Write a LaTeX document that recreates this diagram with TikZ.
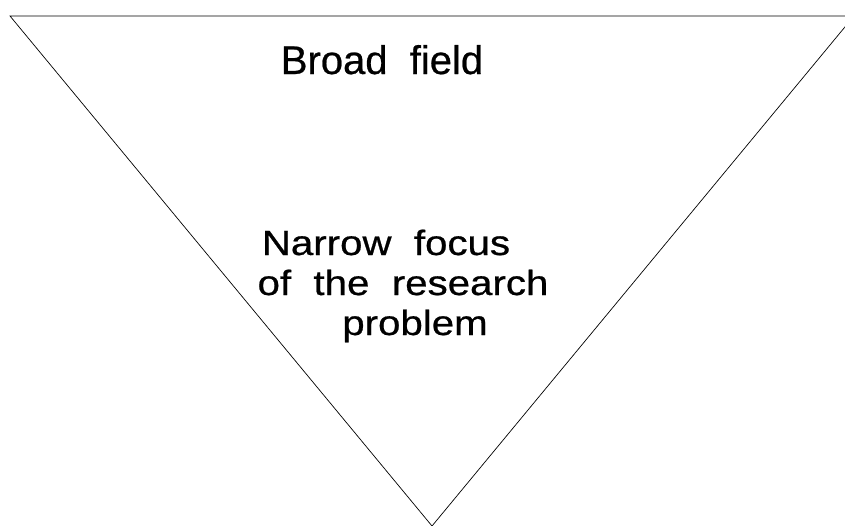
\documentclass[tikz,border=0pt]{standalone}
\usepackage{fontspec}
\setmainfont{Liberation Sans}[WordSpace=2,FakeBold=0.6]
\begin{document}
\begin{tikzpicture}[x=1pt,y=-1pt,every node/.style={inner sep=0pt}]
\useasboundingbox (0,0) rectangle (845,525);
\coordinate (tl) at (10,16);
\coordinate (tr) at (854,16);
\coordinate (tip) at (432,526);
\draw[line width=0.7pt] (tl) -- (tr) -- (tip) -- cycle;
\node[font=\fontsize{40}{48}\selectfont,anchor=base] (broad) at (382,74) {Broad field};
\node[font=\fontsize{35}{40}\selectfont,anchor=base,xscale=1.15] (narrow1) at (386,255) {Narrow focus};
\node[font=\fontsize{35}{40}\selectfont,anchor=base,xscale=1.15] (narrow2) at (403,295) {of the research};
\node[font=\fontsize{35}{40}\selectfont,anchor=base,xscale=1.15] (narrow3) at (415,335) {problem};
\end{tikzpicture}
\end{document}
